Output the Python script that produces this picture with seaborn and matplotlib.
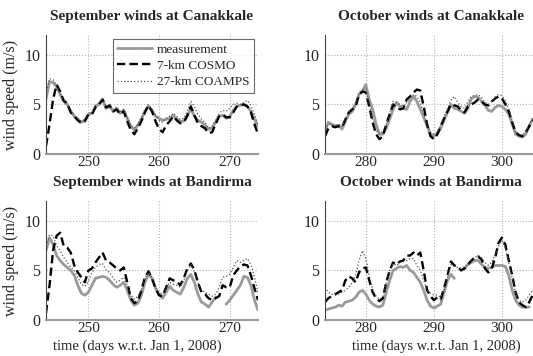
import numpy as np
import pandas as pd
import matplotlib
matplotlib.use("Agg")
import matplotlib.pyplot as plt
import seaborn as sns

# ─── Data (wind speed, m/s) ───────────────────────────────────────────────────

sep_days = np.arange(244.0, 274.01, 0.5)
oct_days = np.arange(274.0, 305.01, 0.5)

nan = np.nan

sep_can_meas = [5.5, 7.3, 7.2, 6.8, 6.0, 5.3, 5.0, 4.3, 3.8, 3.5, 3.2, 3.4, 4.0, 4.1, 4.8, 5.0,
                5.5, 4.6, 4.8, 4.3, 4.6, 4.1, 4.4, 3.6, 2.8, 2.4, 2.9, 3.5, 4.3, 4.8, 4.4, 3.8,
                3.6, 3.4, 3.5, 3.6, 3.9, 3.5, 3.3, 3.3, 3.8, 4.6, 3.8, 3.4, 3.2, 2.9, 2.5, 2.6,
                3.2, 3.8, 3.9, 3.6, 3.8, 4.4, 4.8, 4.9, 5.0, 4.8, 4.3, 3.5, 2.8]
sep_can_cosmo = [0.8, 3.0, 5.5, 7.0, 6.3, 5.4, 5.1, 4.2, 3.8, 3.4, 3.1, 3.3, 4.0, 4.0, 4.7, 5.0,
                 5.5, 4.7, 4.9, 4.3, 4.5, 4.0, 4.3, 3.3, 2.4, 2.0, 2.6, 3.3, 4.2, 4.9, 4.3, 3.3,
                 2.5, 2.2, 2.9, 3.3, 3.8, 3.4, 3.1, 3.2, 3.9, 4.8, 3.9, 3.1, 2.8, 2.6, 2.1, 2.2,
                 3.0, 3.8, 4.0, 3.7, 3.7, 4.2, 4.8, 4.9, 5.0, 4.8, 4.2, 3.0, 2.0]
sep_can_coamps = [6.0, 7.6, 7.5, 6.9, 6.1, 5.5, 5.1, 4.4, 3.9, 3.6, 3.3, 3.5, 4.1, 4.2, 4.9, 5.2,
                  5.6, 4.8, 5.0, 4.4, 4.7, 4.3, 4.5, 3.7, 2.9, 2.6, 3.0, 3.7, 4.5, 5.0, 4.5, 3.9,
                  3.4, 3.2, 3.6, 3.8, 4.1, 3.8, 3.5, 3.6, 4.3, 5.3, 4.8, 4.0, 3.5, 3.2, 2.6, 2.8,
                  3.4, 4.1, 4.4, 4.3, 4.6, 5.0, 5.1, 5.0, 5.2, 5.4, 4.9, 4.0, 3.0]

oct_can_meas = [2.3, 3.2, 3.0, 2.8, 2.9, 2.5, 3.3, 4.0, 4.3, 5.0, 6.0, 6.3, 7.0, 5.5, 4.5, 3.0,
                2.0, 2.0, 2.6, 3.5, 4.5, 5.2, 4.8, 4.6, 4.5, 5.3, 5.8, 5.3, 4.5, 3.7, 2.8, 2.0,
                1.8, 2.0, 2.6, 3.4, 4.2, 5.0, 4.6, 4.5, 4.3, 4.1, 4.6, 5.6, 5.8, 5.7, 5.3, 4.9,
                4.4, 4.3, 4.7, 4.9, 4.8, 4.5, 4.0, 3.0, 2.0, 1.8, 1.7, 2.0, 2.8, 3.5, 3.6]
oct_can_cosmo = [1.8, 2.6, 2.8, 2.7, 2.8, 2.7, 3.5, 4.2, 4.5, 4.8, 6.0, 6.3, 6.2, 4.8, 3.2, 2.0,
                 1.5, 1.8, 3.0, 4.0, 5.0, 4.7, 4.5, 4.6, 5.5, 5.8, 6.2, 6.5, 6.4, 4.8, 3.0, 1.8,
                 1.5, 2.0, 2.8, 3.6, 4.3, 5.0, 4.9, 4.8, 4.4, 4.2, 4.8, 5.0, 5.2, 5.5, 5.3, 5.0,
                 4.9, 5.3, 5.6, 5.8, 5.6, 5.0, 4.3, 3.2, 2.2, 1.9, 1.8, 2.2, 2.8, 3.3, 3.6]
oct_can_coamps = [2.5, 3.0, 3.0, 2.9, 3.0, 2.8, 3.6, 4.2, 4.6, 5.1, 6.2, 6.5, 6.5, 5.0, 3.5, 2.4,
                  2.0, 2.3, 3.0, 4.2, 5.3, 5.2, 5.0, 4.8, 5.2, 5.6, 6.0, 5.8, 5.2, 4.0, 3.0, 2.2,
                  2.0, 2.2, 2.9, 3.8, 4.6, 5.4, 5.8, 5.2, 4.8, 4.6, 5.3, 5.8, 5.9, 6.0, 5.7, 5.2,
                  5.0, 5.3, 5.8, 6.0, 5.9, 5.4, 4.5, 3.4, 2.3, 2.0, 1.9, 2.3, 3.0, 3.6, 3.9]

sep_ban_meas = [7.0, 8.3, 7.6, 6.5, 6.0, 5.6, 5.3, 5.0, 4.5, 3.5, 2.7, 2.5, 2.8, 3.5, 4.2, 4.3,
                4.4, 4.3, 4.0, 3.6, 3.3, 3.5, 3.8, 3.0, 2.0, 1.5, 1.7, 2.5, 3.8, 4.6, 4.2, 3.2,
                2.5, 2.2, 2.8, 3.4, 3.0, 2.8, 2.6, 3.3, 4.2, 4.6, 3.8, 2.6, 1.8, 1.6, 1.3, 1.8,
                2.3, nan, nan, 1.6, 2.0, 2.5, 3.0, 3.5, 4.4, 4.3, 3.5, 2.0, 1.0]
sep_ban_cosmo = [0.7, 3.5, 7.0, 8.5, 8.8, 7.5, 7.3, 6.8, 5.5, 4.8, 4.3, 3.8, 5.0, 5.2, 5.8, 6.3,
                 6.8, 6.0, 5.8, 5.5, 5.2, 5.0, 5.3, 3.8, 2.2, 1.7, 1.9, 3.0, 4.3, 4.9, 4.2, 3.2,
                 2.5, 2.4, 3.3, 4.2, 4.0, 3.9, 3.5, 4.2, 5.2, 5.7, 5.0, 3.8, 2.8, 2.6, 2.2, 2.0,
                 2.2, 2.4, 3.5, 3.3, 3.3, 4.5, 5.0, 5.4, 5.6, 5.5, 4.5, 3.2, 2.0]
sep_ban_coamps = [7.5, 8.6, 8.5, 7.5, 7.0, 6.3, 5.8, 5.3, 5.0, 4.3, 3.6, 3.4, 3.9, 4.8, 5.3, 5.6,
                  5.7, 5.0, 4.8, 4.2, 3.8, 4.0, 4.3, 3.5, 2.5, 2.1, 2.4, 3.0, 4.2, 4.8, 4.3, 3.3,
                  2.8, 2.6, 3.2, 3.8, 3.6, 3.5, 3.3, 4.0, 5.0, 5.6, 4.8, 3.8, 3.0, 2.8, 2.6, 2.4,
                  2.6, 3.3, 4.3, 4.4, 4.6, 5.3, 6.0, 5.8, 6.0, 6.2, 5.6, 4.3, 2.8]

oct_ban_meas = [1.0, 1.1, 1.2, 1.3, 1.5, 1.4, 1.8, 1.9, 2.0, 2.3, 2.8, 3.0, 2.6, 2.0, 1.6, 1.4,
                1.3, 1.5, 2.8, 4.0, 5.0, 5.2, 5.4, 5.3, 5.5, 5.0, 4.8, 4.3, 3.8, 3.0, 2.0, 1.4,
                1.2, 1.4, 1.6, 2.8, 4.0, 4.6, 4.2, nan, nan, 5.2, 5.6, 5.8, 6.0, 6.0, 5.6, 5.3,
                5.2, 5.3, 5.5, 5.5, 5.5, 5.4, 4.5, 3.0, 2.0, 1.5, 1.3, 1.3, 1.3, nan, nan]
oct_ban_cosmo = [1.8, 2.2, 2.4, 2.6, 2.8, 3.0, 4.0, 4.4, 4.2, 3.8, 4.8, 5.2, 5.3, 4.0, 2.8, 2.2,
                 1.9, 2.2, 3.8, 5.0, 5.8, 5.6, 5.9, 6.0, 6.5, 6.5, 6.8, 6.5, 6.8, 5.0, 3.0, 2.4,
                 2.0, 2.3, 2.1, 3.2, 4.5, 5.9, 5.5, 5.4, 5.0, 5.2, 5.6, 6.0, 6.3, 6.4, 6.1, 5.2,
                 4.8, 5.2, 6.3, 7.8, 8.3, 7.6, 6.0, 4.5, 2.8, 1.8, 1.5, 1.3, 1.8, 2.5, 2.8]
oct_ban_coamps = [3.3, 2.8, 2.6, 2.5, 2.6, 2.8, 3.0, 3.3, 3.8, 4.5, 6.0, 7.0, 6.2, 4.5, 3.0, 2.4,
                  2.1, 2.3, 3.8, 5.0, 5.7, 5.5, 5.8, 5.9, 6.0, 6.2, 6.2, 5.5, 5.0, 4.0, 3.0, 2.7,
                  2.5, 2.5, 2.3, 3.0, 4.3, 5.6, 5.4, 5.3, 5.2, 5.4, 5.6, 6.0, 6.3, 6.5, 6.3, 5.8,
                  5.5, 5.8, 6.6, 7.5, 8.0, 7.2, 5.8, 4.2, 2.6, 2.0, 1.8, 2.0, 2.5, 3.0, 3.3]

titles = ["September winds at Canakkale", "October winds at Canakkale",
          "September winds at Bandirma", "October winds at Bandirma"]
series_labels = ["measurement", "7-km COSMO", "27-km COAMPS"]

# ─── Style ────────────────────────────────────────────────────────────────────

sns.set_style("white")
plt.rcParams["font.family"] = ["Liberation Serif", "DejaVu Serif"]
plt.rcParams["font.size"] = 11.5

W, H = 533, 356
fig = plt.figure(figsize=(W / 100, H / 100), dpi=100)


def box(left, top, right, bottom):
    return [left / W, 1 - bottom / H, (right - left) / W, (bottom - top) / H]


panels = [
    (box(46, 35, 258, 154), sep_days, sep_can_meas, sep_can_cosmo, sep_can_coamps, (244, 274), [250, 260, 270]),
    (box(325, 35, 536, 154), oct_days, oct_can_meas, oct_can_cosmo, oct_can_coamps, (274, 305), [280, 290, 300]),
    (box(46, 201, 258, 320), sep_days, sep_ban_meas, sep_ban_cosmo, sep_ban_coamps, (244, 274), [250, 260, 270]),
    (box(325, 201, 536, 320), oct_days, oct_ban_meas, oct_ban_cosmo, oct_ban_coamps, (274, 305), [280, 290, 300]),
]
xlabel_pos = [None, None, 0.43, 0.526]

for i, (rect, days, meas, cosmo, coamps, xlim, xt) in enumerate(panels):
    ax = fig.add_axes(rect)

    # measurement may have gaps: split into segments so lines break there
    m = np.asarray(meas, dtype=float)
    seg = np.cumsum(np.isnan(m))
    df = pd.DataFrame({"day": days, "speed": m, "seg": seg}).dropna()

    sns.lineplot(data=df, x="day", y="speed", units="seg", estimator=None,
                 color="#9a9a9a", lw=2.0, ax=ax, label=series_labels[0])
    sns.lineplot(x=days, y=cosmo, color="black", lw=1.7, ax=ax,
                 label=series_labels[1]).lines[-1].set_dashes([3.5, 1.8])
    sns.lineplot(x=days, y=coamps, color="#555555", lw=0.9, ax=ax,
                 label=series_labels[2]).lines[-1].set_linestyle(":")

    ax.set_xlim(*xlim)
    ax.set_ylim(0, 12)
    ax.set_xticks(xt)
    ax.set_yticks([0, 5, 10])
    ax.grid(True, ls=":", color="#b0b0b0", lw=0.8)
    ax.tick_params(length=0, labelsize=11.5)
    ax.tick_params(axis="y", pad=4)
    ax.tick_params(axis="x", pad=1.5, labelsize=11)
    for s in ["top", "right"]:
        ax.spines[s].set_visible(False)
    ax.spines["bottom"].set_color("#999999")
    ax.spines["bottom"].set_linewidth(1.5)
    ax.spines["left"].set_color("#444444")
    ax.spines["left"].set_linewidth(0.8)

    ax.set_title(titles[i], fontweight="bold", fontsize=11, pad=11)

    ax.set_ylabel("wind speed (m/s)" if i % 2 == 0 else "", fontsize=11.5)
    if i >= 2:
        ax.set_xlabel("time (days w.r.t. Jan 1, 2008)", fontsize=10.5)
        ax.xaxis.set_label_coords(xlabel_pos[i], -0.168)
    else:
        ax.set_xlabel("")

    if i == 0:
        leg = ax.legend(loc="upper right", fontsize=9.5, frameon=True, fancybox=False,
                        borderaxespad=0.3, handlelength=2.6, handletextpad=0.4,
                        labelspacing=0.3, borderpad=0.35)
        leg.get_frame().set_edgecolor("#444444")
        leg.get_frame().set_linewidth(0.8)
    else:
        ax.get_legend().remove()

fig.savefig("out.png", dpi=100)
